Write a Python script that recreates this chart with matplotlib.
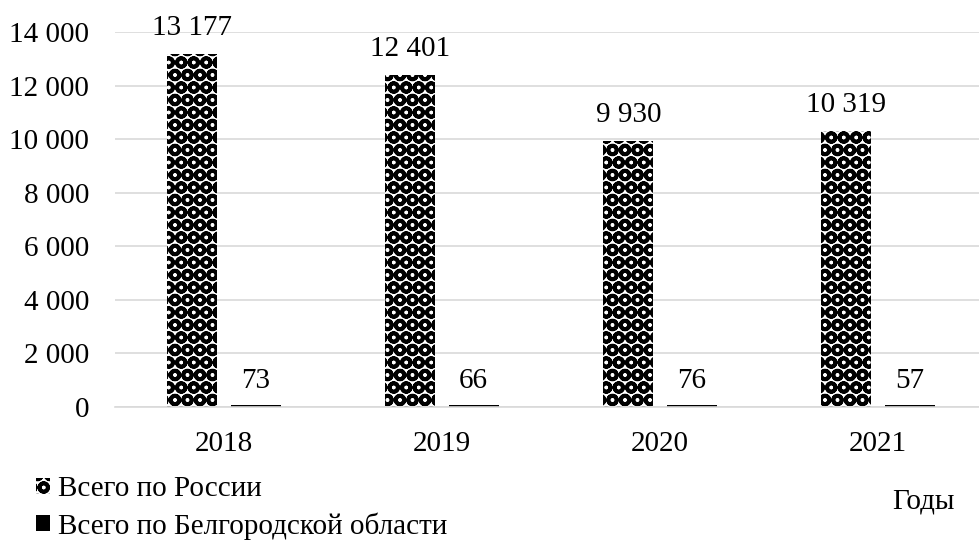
import matplotlib.pyplot as plt
import numpy as np

plt.rcParams['font.family'] = ['Liberation Serif', 'DejaVu Serif']
plt.rcParams['hatch.linewidth'] = 3.6

years = ['2018', '2019', '2020', '2021']
russia = [13177, 12401, 9930, 10319]
belgorod = [73, 66, 76, 57]

def fmt(v):
    return '{:,}'.format(v).replace(',', ' ')

DPI = 75
k = 100 / DPI  # point sizes tuned for 100 dpi
fs = 21 * k
fig = plt.figure(figsize=(979 / DPI, 546 / DPI), dpi=DPI)
ax = fig.add_axes([115 / 979, 1 - 407 / 546, 1 - 115 / 979, 375 / 546])

x = np.arange(len(years))
w = 0.23
b1 = ax.bar(x - 0.145, russia, w, color='white', edgecolor='black', hatch='O', linewidth=0,
            label='Всего по России')
b2 = ax.bar(x + 0.145, belgorod, w, color='black', label='Всего по Белгородской области')

for xi, v in zip(x, russia):
    ax.text(xi - 0.145, v + 710, fmt(v), ha='center', va='baseline', fontsize=fs)
for xi, v in zip(x, belgorod):
    ax.text(xi + 0.145, v + 640, fmt(v), ha='center', va='baseline', fontsize=fs)

ax.set_ylim(0, 14000)
ax.set_xlim(-0.5, 3.5 - 8 / 218)
ax.set_yticks(range(0, 14001, 2000))
ax.set_yticklabels([fmt(t) for t in range(0, 14001, 2000)], fontsize=fs)
ax.set_xticks(x)
ax.set_xticklabels(years, fontsize=fs)
ax.tick_params(axis='y', length=0, pad=18.5 * k)
ax.tick_params(axis='x', length=0, pad=17 * k)
ax.grid(axis='y', color='#d9d9d9', linewidth=1.2 * k)
ax.set_axisbelow(True)
for s in ['top', 'right', 'left']:
    ax.spines[s].set_visible(False)
ax.spines['bottom'].set_color('#d9d9d9')
ax.spines['bottom'].set_linewidth(1.2 * k)

fig.legend(handles=[b1, b2], loc='upper left', bbox_to_anchor=(36 / 979, 1 - 476 / 546),
           frameon=False, fontsize=fs, handlelength=0.48, handleheight=0.48,
           handletextpad=0.28, labelspacing=0.35, borderaxespad=0, borderpad=0)
fig.text(955 / 979, 1 - 502 / 546, 'Годы', ha='right', va='center', fontsize=fs)

fig.savefig('out.png', dpi=DPI)
